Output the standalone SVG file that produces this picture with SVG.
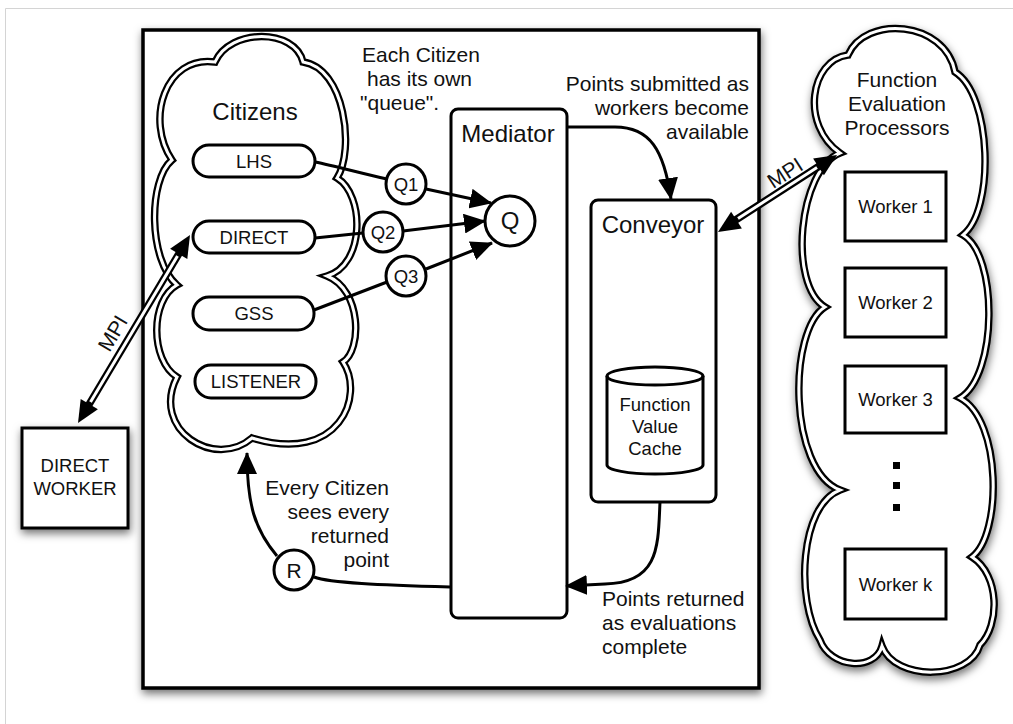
<svg xmlns="http://www.w3.org/2000/svg" xmlns:xlink="http://www.w3.org/1999/xlink" width="1013" height="724" viewBox="0 0 1013 724">
<style>
text{font-family:"Liberation Sans",Arial,Helvetica,sans-serif;fill:#111}
.lbl{font-size:21px}
.big{font-size:24px}
.pill{font-size:18.5px}
.mid{text-anchor:middle}
.end{text-anchor:end}
.box{fill:#fff;stroke:#000;stroke-width:3}
.circ{fill:#fff;stroke:#000;stroke-width:3}
.conn{fill:none;stroke:#000;stroke-width:3}
.cloudOut{fill:#fff;stroke:#000;stroke-width:7.5;stroke-linejoin:miter}
.cloudIn{fill:none;stroke:#fff;stroke-width:3}
.dshaft{stroke:#000;stroke-width:7.5;fill:none}
.dshaftIn{stroke:#fff;stroke-width:3;fill:none}
.head{fill:#000}
</style>
<defs>
<filter id="sh" x="-20%" y="-20%" width="140%" height="140%">
<feDropShadow dx="1" dy="4" stdDeviation="4" flood-color="#000" flood-opacity="0.55"/>
</filter>
<marker id="arr" viewBox="0 0 22 20" refX="21" refY="10" markerWidth="22" markerHeight="20" markerUnits="userSpaceOnUse" orient="auto">
<path d="M0,0 L22,10 L0,20 Z" fill="#000"/>
</marker>
<path id="citCloud" d="M215,62 C230,28 295,28 303,62 C345,68 355,150 337,178 C365,195 365,265 327,276 C362,290 362,350 343,362 C365,395 340,465 252,438 C215,470 150,430 177,377 C150,360 150,300 177,285 C148,260 148,180 172,160 C145,120 165,55 215,62 Z"/>
<path id="fepCloud" d="M840,153 C798,170 788,285 825,307 C788,330 788,470 840,490 C800,505 795,600 820,640 C830,668 875,672 882,646 C895,682 970,680 980,645 C1000,625 1000,575 972,557 C1002,535 1002,420 960,398 C998,375 998,255 963,235 C995,210 992,95 955,72 C945,20 865,15 848,55 C810,60 800,125 840,153 Z"/>
</defs>
<rect x="0" y="0" width="1013" height="724" fill="#fff"/>
<path d="M5.5,724 L5.5,8.5 L1013,8.5" fill="none" stroke="#d4d4d4" stroke-width="1"/>

<g id="main-box">
<rect x="143" y="30" width="616" height="658" fill="#fff" stroke="#000" stroke-width="3.5" filter="url(#sh)"/>
</g>

<g id="citizens">
<use xlink:href="#citCloud" class="cloudOut"/>
<use xlink:href="#citCloud" class="cloudIn"/>
<text x="255" y="120" class="big mid">Citizens</text>
</g>

<g id="lhs">
<rect x="193" y="145" width="122" height="32" rx="16" class="box"/>
<text x="254" y="167.5" class="pill mid">LHS</text>
</g>
<g id="direct">
<rect x="193" y="221" width="122" height="32" rx="16" class="box"/>
<text x="254" y="243.5" class="pill mid">DIRECT</text>
</g>
<g id="gss">
<rect x="193" y="297" width="121" height="33" rx="16" class="box"/>
<text x="254" y="320" class="pill mid">GSS</text>
</g>
<g id="listener">
<rect x="195" y="365" width="121" height="33" rx="16" class="box"/>
<text x="256" y="388" class="pill mid">LISTENER</text>
</g>

<g id="q1"><circle cx="406" cy="184" r="20" class="circ"/><text x="406" y="191" class="pill mid">Q1</text></g>
<g id="q2"><circle cx="383" cy="232" r="20" class="circ"/><text x="383" y="239" class="pill mid">Q2</text></g>
<g id="q3"><circle cx="406" cy="276" r="20" class="circ"/><text x="406" y="283" class="pill mid">Q3</text></g>

<g id="mediator">
<rect x="451" y="109" width="116" height="509" rx="7" class="box"/>
<text x="508" y="142" class="big mid">Mediator</text>
</g>
<g id="q"><circle cx="510" cy="221" r="25" class="circ"/><text x="510" y="229" class="big mid">Q</text></g>

<g id="conveyor">
<rect x="591" y="200" width="125" height="302" rx="7" class="box"/>
<text x="653" y="233" class="big mid">Conveyor</text>
</g>
<g id="cache">
<path d="M607,376 L607,465 A48,9 0 0 0 703,465 L703,376 A48,9 0 0 0 607,376 Z" class="box"/>
<path d="M607,376 A48,9 0 0 0 703,376" fill="none" stroke="#000" stroke-width="3"/>
<text x="655" y="411" class="pill mid">Function</text>
<text x="655" y="433" class="pill mid">Value</text>
<text x="655" y="455" class="pill mid">Cache</text>
</g>

<g id="r"><circle cx="294" cy="570" r="20" class="circ"/><text x="294" y="578" class="lbl mid">R</text></g>

<g id="direct-worker">
<rect x="22" y="428" width="106" height="100" fill="#fff" stroke="#000" stroke-width="3" filter="url(#sh)"/>
<text x="75" y="472" class="pill mid">DIRECT</text>
<text x="75" y="495" class="pill mid">WORKER</text>
</g>

<g id="fep">
<g filter="url(#sh)"><use xlink:href="#fepCloud" class="cloudOut"/></g>
<use xlink:href="#fepCloud" class="cloudIn"/>
<text x="897" y="87" class="lbl mid">Function</text>
<text x="897" y="111" class="lbl mid">Evaluation</text>
<text x="897" y="135" class="lbl mid">Processors</text>
</g>
<g id="worker1"><rect x="845" y="172" width="101" height="69" class="box"/><text x="895.5" y="213" class="pill mid">Worker 1</text></g>
<g id="worker2"><rect x="845" y="268" width="101" height="69" class="box"/><text x="895.5" y="309" class="pill mid">Worker 2</text></g>
<g id="worker3"><rect x="845" y="366" width="101" height="67" class="box"/><text x="895.5" y="406" class="pill mid">Worker 3</text></g>
<g id="dots">
<rect x="893" y="462" width="7" height="7" fill="#000"/>
<rect x="893" y="482" width="7" height="7" fill="#000"/>
<rect x="893" y="504" width="7" height="7" fill="#000"/>
</g>
<g id="workerk"><rect x="845" y="549" width="101" height="70" class="box"/><text x="895.5" y="590.5" class="pill mid">Worker k</text></g>

<g id="labels">
<text x="362" y="62" class="lbl">Each Citizen</text>
<text x="367" y="86" class="lbl">has its own</text>
<text x="360" y="110" class="lbl">"queue".</text>
<text x="749" y="91" class="lbl end">Points submitted as</text>
<text x="749" y="115" class="lbl end">workers become</text>
<text x="749" y="139" class="lbl end">available</text>
<text x="389" y="495" class="lbl end">Every Citizen</text>
<text x="389" y="519" class="lbl end">sees every</text>
<text x="389" y="543" class="lbl end">returned</text>
<text x="389" y="567" class="lbl end">point</text>
<text x="602" y="606" class="lbl">Points returned</text>
<text x="602" y="630" class="lbl">as evaluations</text>
<text x="602" y="654" class="lbl">complete</text>
<text transform="translate(119,337) rotate(-59.2)" class="lbl mid">MPI</text>
<text transform="translate(789,179) rotate(-32.9)" class="lbl mid">MPI</text>
</g>

<g id="connectors">
<path d="M315,162 C335,166 360,173 387,179" class="conn"/>
<path d="M426,189 L491,203" class="conn" marker-end="url(#arr)"/>
<path d="M315,238 L363,233" class="conn"/>
<path d="M403,231 L485,221" class="conn" marker-end="url(#arr)"/>
<path d="M314,310 L387,282" class="conn"/>
<path d="M426,269 L492,243" class="conn" marker-end="url(#arr)"/>
<path d="M567,127 L615,127 C650,127 664,150 671,199" class="conn" marker-end="url(#arr)"/>
<path d="M660,502 C658,545 660,583 605,584 L566,586" class="conn" marker-end="url(#arr)"/>
<path d="M450,587 C380,585 330,583 314,577" class="conn"/>
<path d="M277,556 C255,530 247,505 247,453" class="conn" marker-end="url(#arr)"/>
<path d="M734,221 L821,165" class="dshaft"/>
<path d="M738,218.5 L817,167.5" class="dshaftIn"/>
<polygon points="718,232 741.9,228.5 731.1,211.7" class="head"/>
<polygon points="837,155 823.9,175.3 813.1,158.5" class="head"/>
<path d="M179.8,252.2 L88.2,405.8" class="dshaft"/>
<path d="M177.5,256 L90.5,402" class="dshaftIn"/>
<polygon points="190,235 187.3,259.0 170.1,248.8" class="head"/>
<polygon points="78,423 97.9,409.2 80.7,399.0" class="head"/>
</g>
</svg>
